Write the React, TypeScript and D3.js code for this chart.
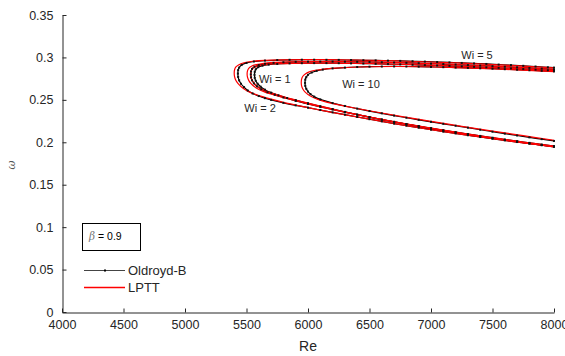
import React, { useEffect, useRef } from 'react';
import * as d3 from 'd3';

type Pt = [number, number];

// axis ticks
const reTicks = [4000, 4500, 5000, 5500, 6000, 6500, 7000, 7500, 8000];
const omegaTicks = [0, 0.05, 0.1, 0.15, 0.2, 0.25, 0.3, 0.35];

// Oldroyd-B curves, upper branch (after the nose) and lower branch (starting at the nose)
const obWi1Upper: Pt[] = [[5537,0.2835],[5545,0.2865],[5565,0.2890],[5600,0.2910],[5650,0.2925],[5720,0.2936],[5800,0.2943],[5900,0.2948],[6000,0.2950],[6100,0.2951],[6200,0.2951],[6300,0.2950],[6400,0.2948],[6500,0.2946],[6600,0.2943],[6700,0.2940],[6800,0.2936],[6900,0.2932],[7000,0.2927],[7100,0.2922],[7200,0.2916],[7300,0.2910],[7400,0.2904],[7500,0.2897],[7600,0.2890],[7700,0.2883],[7800,0.2876],[7900,0.2868],[8000,0.2860]];
const obWi1Lower: Pt[] = [[5535,0.2800],[5537,0.2765],[5545,0.2730],[5560,0.2695],[5585,0.2660],[5620,0.2625],[5670,0.2590],[5730,0.2560],[5800,0.2528],[5900,0.2488],[6000,0.2452],[6100,0.2418],[6200,0.2386],[6300,0.2355],[6400,0.2325],[6500,0.2296],[6600,0.2268],[6700,0.2241],[6800,0.2215],[6900,0.2190],[7000,0.2166],[7100,0.2142],[7200,0.2119],[7300,0.2097],[7400,0.2075],[7500,0.2054],[7600,0.2033],[7700,0.2013],[7800,0.1993],[7900,0.1974],[8000,0.1955]];

const obWi2Upper: Pt[] = [[5432,0.2850],[5440,0.2880],[5460,0.2910],[5500,0.2935],[5560,0.2952],[5650,0.2963],[5750,0.2969],[5850,0.2972],[5950,0.2973],[6050,0.2973],[6150,0.2972],[6250,0.2971],[6350,0.2969],[6450,0.2967],[6550,0.2965],[6650,0.2962],[6750,0.2959],[6850,0.2955],[6950,0.2951],[7050,0.2946],[7150,0.2941],[7250,0.2935],[7350,0.2929],[7450,0.2923],[7550,0.2916],[7650,0.2909],[7750,0.2901],[7850,0.2893],[7950,0.2884],[8000,0.2880]];
const obWi2Lower: Pt[] = [[5430,0.2810],[5432,0.2770],[5440,0.2730],[5455,0.2690],[5480,0.2650],[5510,0.2610],[5550,0.2575],[5600,0.2545],[5650,0.2520],[5700,0.2500],[5800,0.2465],[5900,0.2435],[6000,0.2408],[6100,0.2380],[6200,0.2352],[6300,0.2325],[6400,0.2298],[6500,0.2272],[6600,0.2246],[6700,0.2220],[6800,0.2196],[6900,0.2172],[7000,0.2149],[7100,0.2126],[7200,0.2104],[7300,0.2083],[7400,0.2062],[7500,0.2042],[7600,0.2022],[7700,0.2003],[7800,0.1985],[7900,0.1967],[8000,0.1950]];

const obWi5Upper: Pt[] = [[5567,0.2830],[5575,0.2860],[5595,0.2885],[5630,0.2903],[5680,0.2915],[5750,0.2923],[5850,0.2929],[5950,0.2932],[6050,0.2933],[6150,0.2933],[6250,0.2932],[6350,0.2930],[6450,0.2928],[6550,0.2925],[6650,0.2922],[6750,0.2918],[6850,0.2914],[6950,0.2910],[7050,0.2905],[7150,0.2900],[7250,0.2895],[7350,0.2889],[7450,0.2883],[7550,0.2877],[7650,0.2870],[7750,0.2863],[7850,0.2856],[7950,0.2849],[8000,0.2845]];
const obWi5Lower: Pt[] = [[5565,0.2795],[5567,0.2760],[5575,0.2725],[5590,0.2690],[5615,0.2655],[5650,0.2620],[5700,0.2585],[5760,0.2553],[5830,0.2522],[5900,0.2496],[6000,0.2460],[6100,0.2425],[6200,0.2391],[6300,0.2358],[6400,0.2327],[6500,0.2297],[6600,0.2268],[6700,0.2240],[6800,0.2213],[6900,0.2187],[7000,0.2162],[7100,0.2138],[7200,0.2115],[7300,0.2092],[7400,0.2070],[7500,0.2048],[7600,0.2027],[7700,0.2006],[7800,0.1986],[7900,0.1966],[8000,0.1946]];

const obWi10Upper: Pt[] = [[5978,0.2738],[5986,0.2768],[6000,0.2795],[6030,0.2822],[6070,0.2842],[6120,0.2857],[6200,0.2870],[6300,0.2880],[6400,0.2887],[6500,0.2891],[6600,0.2893],[6700,0.2894],[6800,0.2893],[6900,0.2891],[7000,0.2888],[7100,0.2885],[7200,0.2881],[7300,0.2877],[7400,0.2872],[7500,0.2867],[7600,0.2861],[7700,0.2855],[7800,0.2849],[7900,0.2842],[8000,0.2835]];
const obWi10Lower: Pt[] = [[5976,0.2700],[5978,0.2665],[5986,0.2630],[6000,0.2598],[6020,0.2568],[6050,0.2538],[6100,0.2505],[6200,0.2462],[6300,0.2428],[6400,0.2397],[6500,0.2368],[6600,0.2341],[6700,0.2315],[6800,0.2290],[6900,0.2265],[7000,0.2241],[7100,0.2218],[7200,0.2195],[7300,0.2172],[7400,0.2148],[7500,0.2125],[7600,0.2102],[7700,0.2080],[7800,0.2058],[7900,0.2037],[8000,0.2016]];

// LPTT curves
const lpWi1Upper: Pt[] = [[5508,0.2842],[5518,0.2872],[5540,0.2897],[5580,0.2916],[5640,0.2931],[5720,0.2941],[5850,0.2948],[6000,0.2951],[6250,0.2951],[6500,0.2947],[6750,0.2939],[7000,0.2928],[7250,0.2914],[7500,0.2898],[7750,0.2880],[8000,0.2860]];
const lpWi1Lower: Pt[] = [[5505,0.2805],[5508,0.2768],[5518,0.2730],[5537,0.2692],[5565,0.2655],[5605,0.2620],[5660,0.2585],[5730,0.2555],[5800,0.2527],[5900,0.2489],[6000,0.2453],[6250,0.2371],[6500,0.2297],[6750,0.2229],[7000,0.2167],[7250,0.2109],[7500,0.2055],[7750,0.2003],[8000,0.1956]];

const lpWi2Upper: Pt[] = [[5403,0.2855],[5412,0.2885],[5435,0.2912],[5480,0.2937],[5550,0.2955],[5650,0.2966],[5800,0.2972],[6000,0.2974],[6250,0.2972],[6500,0.2967],[6750,0.2958],[7000,0.2946],[7250,0.2933],[7500,0.2916],[7750,0.2898],[8000,0.2877]];
const lpWi2Lower: Pt[] = [[5400,0.2815],[5403,0.2775],[5412,0.2735],[5430,0.2695],[5455,0.2658],[5490,0.2620],[5540,0.2582],[5600,0.2550],[5700,0.2508],[5800,0.2470],[5900,0.2438],[6000,0.2408],[6250,0.2338],[6500,0.2272],[6750,0.2208],[7000,0.2148],[7250,0.2093],[7500,0.2042],[7750,0.1994],[8000,0.1948]];

const lpWi5Upper: Pt[] = [[5538,0.2837],[5548,0.2866],[5570,0.2889],[5610,0.2906],[5670,0.2918],[5750,0.2926],[5880,0.2931],[6050,0.2933],[6300,0.2931],[6550,0.2926],[6800,0.2917],[7050,0.2906],[7300,0.2892],[7550,0.2877],[7800,0.2860],[8000,0.2845]];
const lpWi5Lower: Pt[] = [[5535,0.2800],[5538,0.2763],[5548,0.2725],[5567,0.2688],[5595,0.2652],[5635,0.2618],[5690,0.2586],[5760,0.2555],[5830,0.2525],[5900,0.2498],[6000,0.2461],[6250,0.2375],[6500,0.2298],[6750,0.2227],[7000,0.2163],[7250,0.2104],[7500,0.2049],[7750,0.1996],[8000,0.1946]];

const lpWi10Upper: Pt[] = [[5948,0.2745],[5958,0.2778],[5978,0.2806],[6010,0.2830],[6060,0.2849],[6130,0.2863],[6220,0.2874],[6350,0.2884],[6500,0.2890],[6700,0.2893],[6950,0.2890],[7200,0.2880],[7450,0.2868],[7700,0.2853],[8000,0.2833]];
const lpWi10Lower: Pt[] = [[5945,0.2705],[5948,0.2665],[5958,0.2628],[5975,0.2594],[6000,0.2563],[6035,0.2533],[6080,0.2505],[6150,0.2474],[6250,0.2440],[6400,0.2398],[6600,0.2345],[6800,0.2294],[7000,0.2246],[7250,0.2188],[7500,0.2132],[7750,0.2078],[8000,0.2024]];

// curve annotations, placed in data units
const wiLabels = ['Wi = 1', 'Wi = 2', 'Wi = 5', 'Wi = 10'];
const wiLabelRe = [5730, 5610, 7374, 6431];
const wiLabelOmega = [0.2746, 0.2404, 0.3029, 0.2687];

const W = 565;
const H = 356;
const font = 'Liberation Sans, Arial, Helvetica, sans-serif';
const ink = '#262626';

const joinBranches = (upper: Pt[], lower: Pt[]): Pt[] => [...upper].reverse().concat(lower);

const App = () => {
    const svgRef = useRef<SVGSVGElement>(null);

    useEffect(() => {
        const svg = d3.select(svgRef.current);
        svg.selectAll('*').remove();

        const x = d3.scaleLinear().domain([4000, 8000]).range([62, 554]);
        const y = d3.scaleLinear().domain([0, 0.35]).range([312, 15]);

        const obCurves = [
            joinBranches(obWi1Upper, obWi1Lower),
            joinBranches(obWi2Upper, obWi2Lower),
            joinBranches(obWi5Upper, obWi5Lower),
            joinBranches(obWi10Upper, obWi10Lower),
        ];
        const lpCurves = [
            joinBranches(lpWi1Upper, lpWi1Lower),
            joinBranches(lpWi2Upper, lpWi2Lower),
            joinBranches(lpWi5Upper, lpWi5Lower),
            joinBranches(lpWi10Upper, lpWi10Lower),
        ];

        const line = d3.line<Pt>()
            .x(d => x(d[0]))
            .y(d => y(d[1]))
            .curve(d3.curveCatmullRom.alpha(0.5));

        // axes
        const xAxis = svg.append('g')
            .attr('transform', 'translate(0,312.5)')
            .call(d3.axisBottom(x).tickValues(reTicks).tickFormat(d3.format('d')).tickSizeInner(-4).tickSizeOuter(0).tickPadding(8));
        const yAxis = svg.append('g')
            .attr('transform', 'translate(62.5,0)')
            .call(d3.axisLeft(y).tickValues(omegaTicks).tickFormat(d3.format('~g')).tickSizeInner(-4).tickSizeOuter(0).tickPadding(9));
        [xAxis, yAxis].forEach(a => {
            a.selectAll('path, line').attr('stroke', ink);
            a.selectAll('text').attr('fill', ink).style('font-family', font).style('font-size', '12.5px');
        });

        svg.append('text')
            .attr('x', x(6000))
            .attr('y', 351)
            .attr('text-anchor', 'middle')
            .attr('fill', ink)
            .style('font-family', font)
            .style('font-size', '14px')
            .text('Re');

        svg.append('text')
            .attr('transform', 'translate(15,165) rotate(-90)')
            .attr('text-anchor', 'middle')
            .attr('fill', '#555')
            .style('font-family', 'DejaVu Serif, serif')
            .style('font-style', 'italic')
            .style('font-size', '11px')
            .text('ω');

        // curves
        const plot = svg.append('g');
        plot.selectAll('.ob')
            .data(obCurves)
            .enter()
            .append('path')
            .attr('d', line)
            .attr('fill', 'none')
            .attr('stroke', '#000')
            .attr('stroke-width', 1.2);

        plot.selectAll('.lp')
            .data(lpCurves)
            .enter()
            .append('path')
            .attr('d', line)
            .attr('fill', 'none')
            .attr('stroke', '#ff0000')
            .attr('stroke-width', 1.2);

        plot.selectAll('.mk')
            .data(obCurves.flat())
            .enter()
            .append('rect')
            .attr('x', d => x(d[0]) - 1)
            .attr('y', d => y(d[1]) - 1)
            .attr('width', 2)
            .attr('height', 2)
            .attr('fill', '#111');

        // Wi annotations
        svg.selectAll('.wi')
            .data(wiLabels)
            .enter()
            .append('text')
            .attr('x', (d, i) => x(wiLabelRe[i]))
            .attr('y', (d, i) => y(wiLabelOmega[i]))
            .attr('dy', '0.35em')
            .attr('text-anchor', 'middle')
            .attr('fill', ink)
            .style('font-family', font)
            .style('font-size', '11px')
            .text(d => d);

        // beta box
        svg.append('rect')
            .attr('x', 82.5)
            .attr('y', 223.5)
            .attr('width', 58)
            .attr('height', 27)
            .attr('fill', '#fff')
            .attr('stroke', '#000');
        const beta = svg.append('text')
            .attr('x', 89)
            .attr('y', 240)
            .style('font-family', font)
            .style('font-size', '10.5px');
        beta.append('tspan')
            .attr('fill', '#777')
            .style('font-family', 'DejaVu Serif, serif')
            .style('font-style', 'italic')
            .text('β');
        beta.append('tspan')
            .attr('fill', '#000')
            .text(' = 0.9');

        // legend
        const legend = svg.append('g');
        legend.append('line')
            .attr('x1', 84).attr('x2', 125).attr('y1', 270.5).attr('y2', 270.5)
            .attr('stroke', '#444').attr('stroke-width', 1.2);
        legend.append('rect')
            .attr('x', 104).attr('y', 269.5).attr('width', 2).attr('height', 2)
            .attr('fill', '#000');
        legend.append('line')
            .attr('x1', 84).attr('x2', 125).attr('y1', 287.5).attr('y2', 287.5)
            .attr('stroke', 'rgb(255,0,0)').attr('stroke-width', 1.3);
        legend.selectAll('.lt')
            .data(['Oldroyd-B', 'LPTT'])
            .enter()
            .append('text')
            .attr('x', 128)
            .attr('y', (d, i) => 270.5 + i * 17)
            .attr('dy', '0.35em')
            .attr('fill', ink)
            .style('font-family', font)
            .style('font-size', '13px')
            .text(d => d);
    }, []);

    return (
        <svg ref={svgRef} width={W} height={H} style={{ position: 'absolute', left: 0, top: 0, background: '#fff' }} />
    );
};

export default App;
